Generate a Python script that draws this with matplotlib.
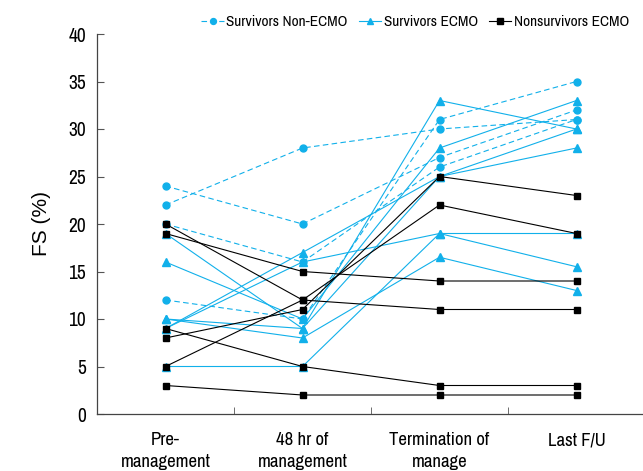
import matplotlib
matplotlib.use('Agg')
import matplotlib.pyplot as plt

plt.rcParams['font.family'] = ['Archivo Narrow', 'DejaVu Sans']

stages = ['Pre-\nmanagement', '48 hr of\nmanagement', 'Termination of\nmanage', 'Last F/U']

# FS (%) per patient: pre, 48 hr, termination, last F/U
non_ecmo = [
    [24, 20, 27, 32],
    [22, 28, 30, 31],
    [20, 16, 26, 31],
    [12, 10, 31, 35],
]
surv_ecmo = [
    [19, 9, 33, 30],
    [16, 10, 28, 33],
    [10, 8, 16.5, 13],
    [9, 17, 25, 30],
    [9, 16, 19, 19],
    [5, 5, 19, 15.5],
    [10, 9, 25, 28],
]
nonsurv_ecmo = [
    [20, 12, 11, 11],
    [19, 15, 14, 14],
    [9, 5, 3, 3],
    [8, 11, 25, 23],
    [5, 12, 22, 19],
    [3, 2, 2, 2],
]

blue = '#11b0ea'
x = range(len(stages))

fig = plt.figure(figsize=(6.43, 4.71), dpi=100)
ax = fig.add_axes([97/643, 57/471, 548/643, 380/471])

for i, p in enumerate(non_ecmo):
    ax.plot(x, p, color=blue, lw=0.8, ls=(0, (5, 3)), marker='o', ms=5,
            label='Survivors Non-ECMO' if i == 0 else None)
for i, p in enumerate(surv_ecmo):
    ax.plot(x, p, color=blue, lw=0.8, marker='^', ms=5.5,
            label='Survivors ECMO' if i == 0 else None)
for i, p in enumerate(nonsurv_ecmo):
    ax.plot(x, p, color='black', lw=0.8, marker='s', ms=5,
            label='Nonsurvivors ECMO' if i == 0 else None)

ax.set_xlim(-0.5, 3.5)
ax.set_ylim(0, 40)
ax.set_yticks(range(0, 41, 5))
ax.set_xticks(list(x))
ax.set_xticklabels(stages, fontsize=13.5, linespacing=1.45)
ax.set_xticks([0.5, 1.5, 2.5], minor=True)
ax.tick_params(axis='x', which='major', length=0, pad=13)
ax.tick_params(axis='x', which='minor', direction='in', length=5, color='#555555')
ax.tick_params(axis='y', direction='in', length=5, labelsize=14, color='#555555', pad=8)
ax.set_ylabel('FS (%)', fontsize=15, labelpad=12, family=['Liberation Sans', 'DejaVu Sans'])

for s in ['top', 'right']:
    ax.spines[s].set_visible(False)
for s in ['left', 'bottom']:
    ax.spines[s].set_color('#444444')
    ax.spines[s].set_linewidth(0.9)

leg = ax.legend(loc='upper right', bbox_to_anchor=(0.982, 1.066), ncol=3, frameon=False,
                fontsize=11, handlelength=1.5, handletextpad=0.15, columnspacing=0.7,
                borderaxespad=0, markerscale=0.85)

fig.savefig('out.png', dpi=100)
